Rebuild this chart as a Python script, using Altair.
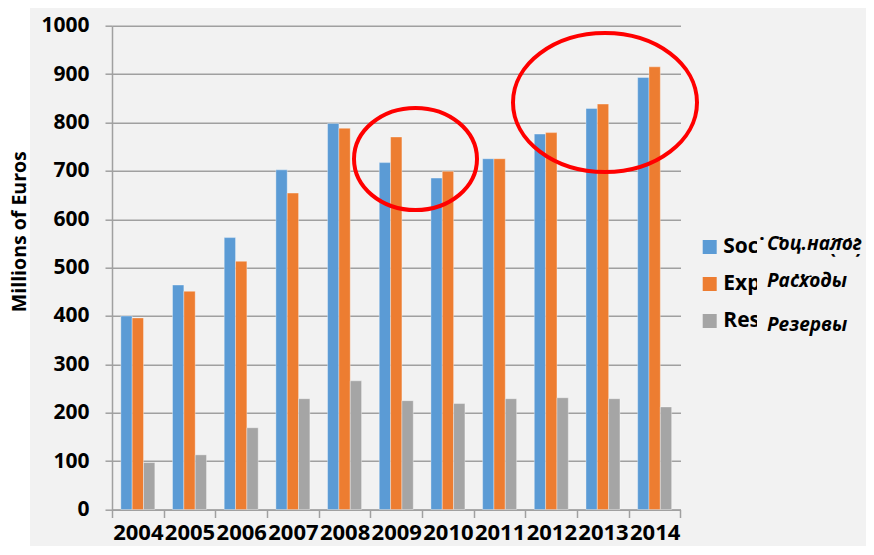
import altair as alt
import pandas as pd

# ---- data ----
years = ["2004", "2005", "2006", "2007", "2008", "2009", "2010", "2011", "2012", "2013", "2014"]
series = ["Social tax (%)", "Expenditures", "Reserves"]
series_ru = ["Соц.налог", "Расходы", "Резервы"]
social = [400, 464, 562, 702, 798, 717, 685, 725, 776, 829, 893]
expend = [396, 451, 513, 654, 788, 770, 699, 725, 779, 838, 915]
reserves = [97, 113, 169, 229, 266, 225, 219, 229, 231, 229, 212]
y_ticks = [0, 100, 200, 300, 400, 500, 600, 700, 800, 900, 1000]
y_title = "Millions of Euros"
colors = ["#5b9bd5", "#ed7d31", "#a5a5a5"]

rows = []
for i, yr in enumerate(years):
    for s, vals in zip(series, [social, expend, reserves]):
        rows.append({"year": yr, "series": s, "value": vals[i]})
df = pd.DataFrame(rows)
leg = pd.DataFrame({"series": series, "ru": series_ru, "row": list(range(len(series)))})
one = pd.DataFrame({"k": [0]})

W, H = 568.5, 483.8
FONT = "Open Sans"
GRID = "#a0a0a0"


def ellipse_path(k):
    c = 0.5523
    return (f"M-1,0 C-1,{-c*k:.4f} {-c:.4f},{-k:.4f} 0,{-k:.4f} "
            f"C{c:.4f},{-k:.4f} 1,{-c*k:.4f} 1,0 "
            f"C1,{c*k:.4f} {c:.4f},{k:.4f} 0,{k:.4f} "
            f"C{-c:.4f},{k:.4f} -1,{c*k:.4f} -1,0 Z")


def rect_path(k):
    return f"M-1,{-k:.4f} L1,{-k:.4f} L1,{k:.4f} L-1,{k:.4f} Z"


color = alt.Color("series:N", scale=alt.Scale(domain=series, range=colors), legend=None)

strip = alt.Chart(one).mark_rect(color="white").encode(
    x=alt.value(-104), x2=alt.value(-82), y=alt.value(-18), y2=alt.value(525)
)

ytitle = alt.Chart(one).mark_text(
    text=y_title, angle=270, font=FONT, fontWeight="bold", fontSize=19.5,
    color="black", align="center", baseline="bottom"
).encode(x=alt.value(-82), y=alt.value(206))

bars = alt.Chart(df).mark_bar(stroke="white", strokeOpacity=0.35, strokeWidth=1).encode(
    x=alt.X("year:N", sort=years,
            scale=alt.Scale(paddingInner=0, paddingOuter=0),
            axis=alt.Axis(title=None, tickBand="extent", labelAngle=0,
                          labelFont=FONT, labelFontWeight="bold", labelFontSize=22,
                          labelColor="black", labelPadding=5, labelOverlap=False,
                          domainColor=GRID, domainWidth=1.5, tickColor=GRID,
                          tickWidth=1.5, tickSize=8, grid=False)),
    xOffset=alt.XOffset("series:N", sort=series,
                        scale=alt.Scale(domain=series, paddingInner=0, paddingOuter=0.78)),
    y=alt.Y("value:Q", scale=alt.Scale(domain=[0, 1000], nice=False),
            axis=alt.Axis(title=None, values=y_ticks, format="d", grid=True, gridColor=GRID,
                          gridWidth=1.5, domainColor=GRID, domainWidth=1.5,
                          tickColor=GRID, tickWidth=1.5, tickSize=7,
                          labelFont=FONT, labelFontWeight="bold", labelFontSize=21,
                          labelColor="black", labelPadding=16)),
    color=color,
)

e1 = alt.Chart(one).mark_point(
    shape=ellipse_path(0.83), filled=False, stroke="#ff0000", strokeWidth=4,
    size=123 ** 2, opacity=1
).encode(x=alt.value(303.5), y=alt.value(133.3))

e2 = alt.Chart(one).mark_point(
    shape=ellipse_path(0.755), filled=False, stroke="#ff0000", strokeWidth=4,
    size=184 ** 2, opacity=1
).encode(x=alt.value(493), y=alt.value(76.8))

leg_y = alt.Y("row:Q", scale=alt.Scale(domain=[0, 2], range=[221.3, 295.3]), axis=None)

squares = alt.Chart(leg).mark_square(size=196, opacity=1, strokeWidth=0).encode(
    x=alt.value(597.7), y=leg_y, color=color
)

en_text = alt.Chart(leg).mark_text(
    align="left", baseline="middle", font=FONT, fontWeight="bold", fontSize=21, color="black"
).encode(x=alt.value(611.3), y=leg_y, text="series:N")

covers = alt.Chart(leg).mark_point(
    shape=rect_path(0.12), filled=True, color="#f2f2f2", opacity=1, strokeWidth=0,
    size=117 ** 2
).encode(x=alt.value(703.5), y=leg_y)

ru_text = alt.Chart(leg).mark_text(
    align="left", baseline="middle", font=FONT, fontWeight="bold", fontStyle="italic",
    fontSize=19, color="black"
).encode(
    x=alt.value(655),
    y=alt.Y("row:Q", scale=alt.Scale(domain=[0, 1, 2], range=[218.3, 254.8, 298.8]), axis=None),
    text="ru:N",
)

chart = alt.layer(strip, ytitle, bars, e1, e2, squares, en_text, covers, ru_text).resolve_scale(
    y="independent", x="independent"
).properties(
    width=W, height=H,
    padding={"left": 104, "top": 17.7, "right": 185.5, "bottom": 36},
    autosize=alt.AutoSizeParams(type="none"),
    background="#f2f2f2",
).configure_view(stroke=None)

chart.save("out.html", embed_options={"renderer": "svg", "actions": False})
